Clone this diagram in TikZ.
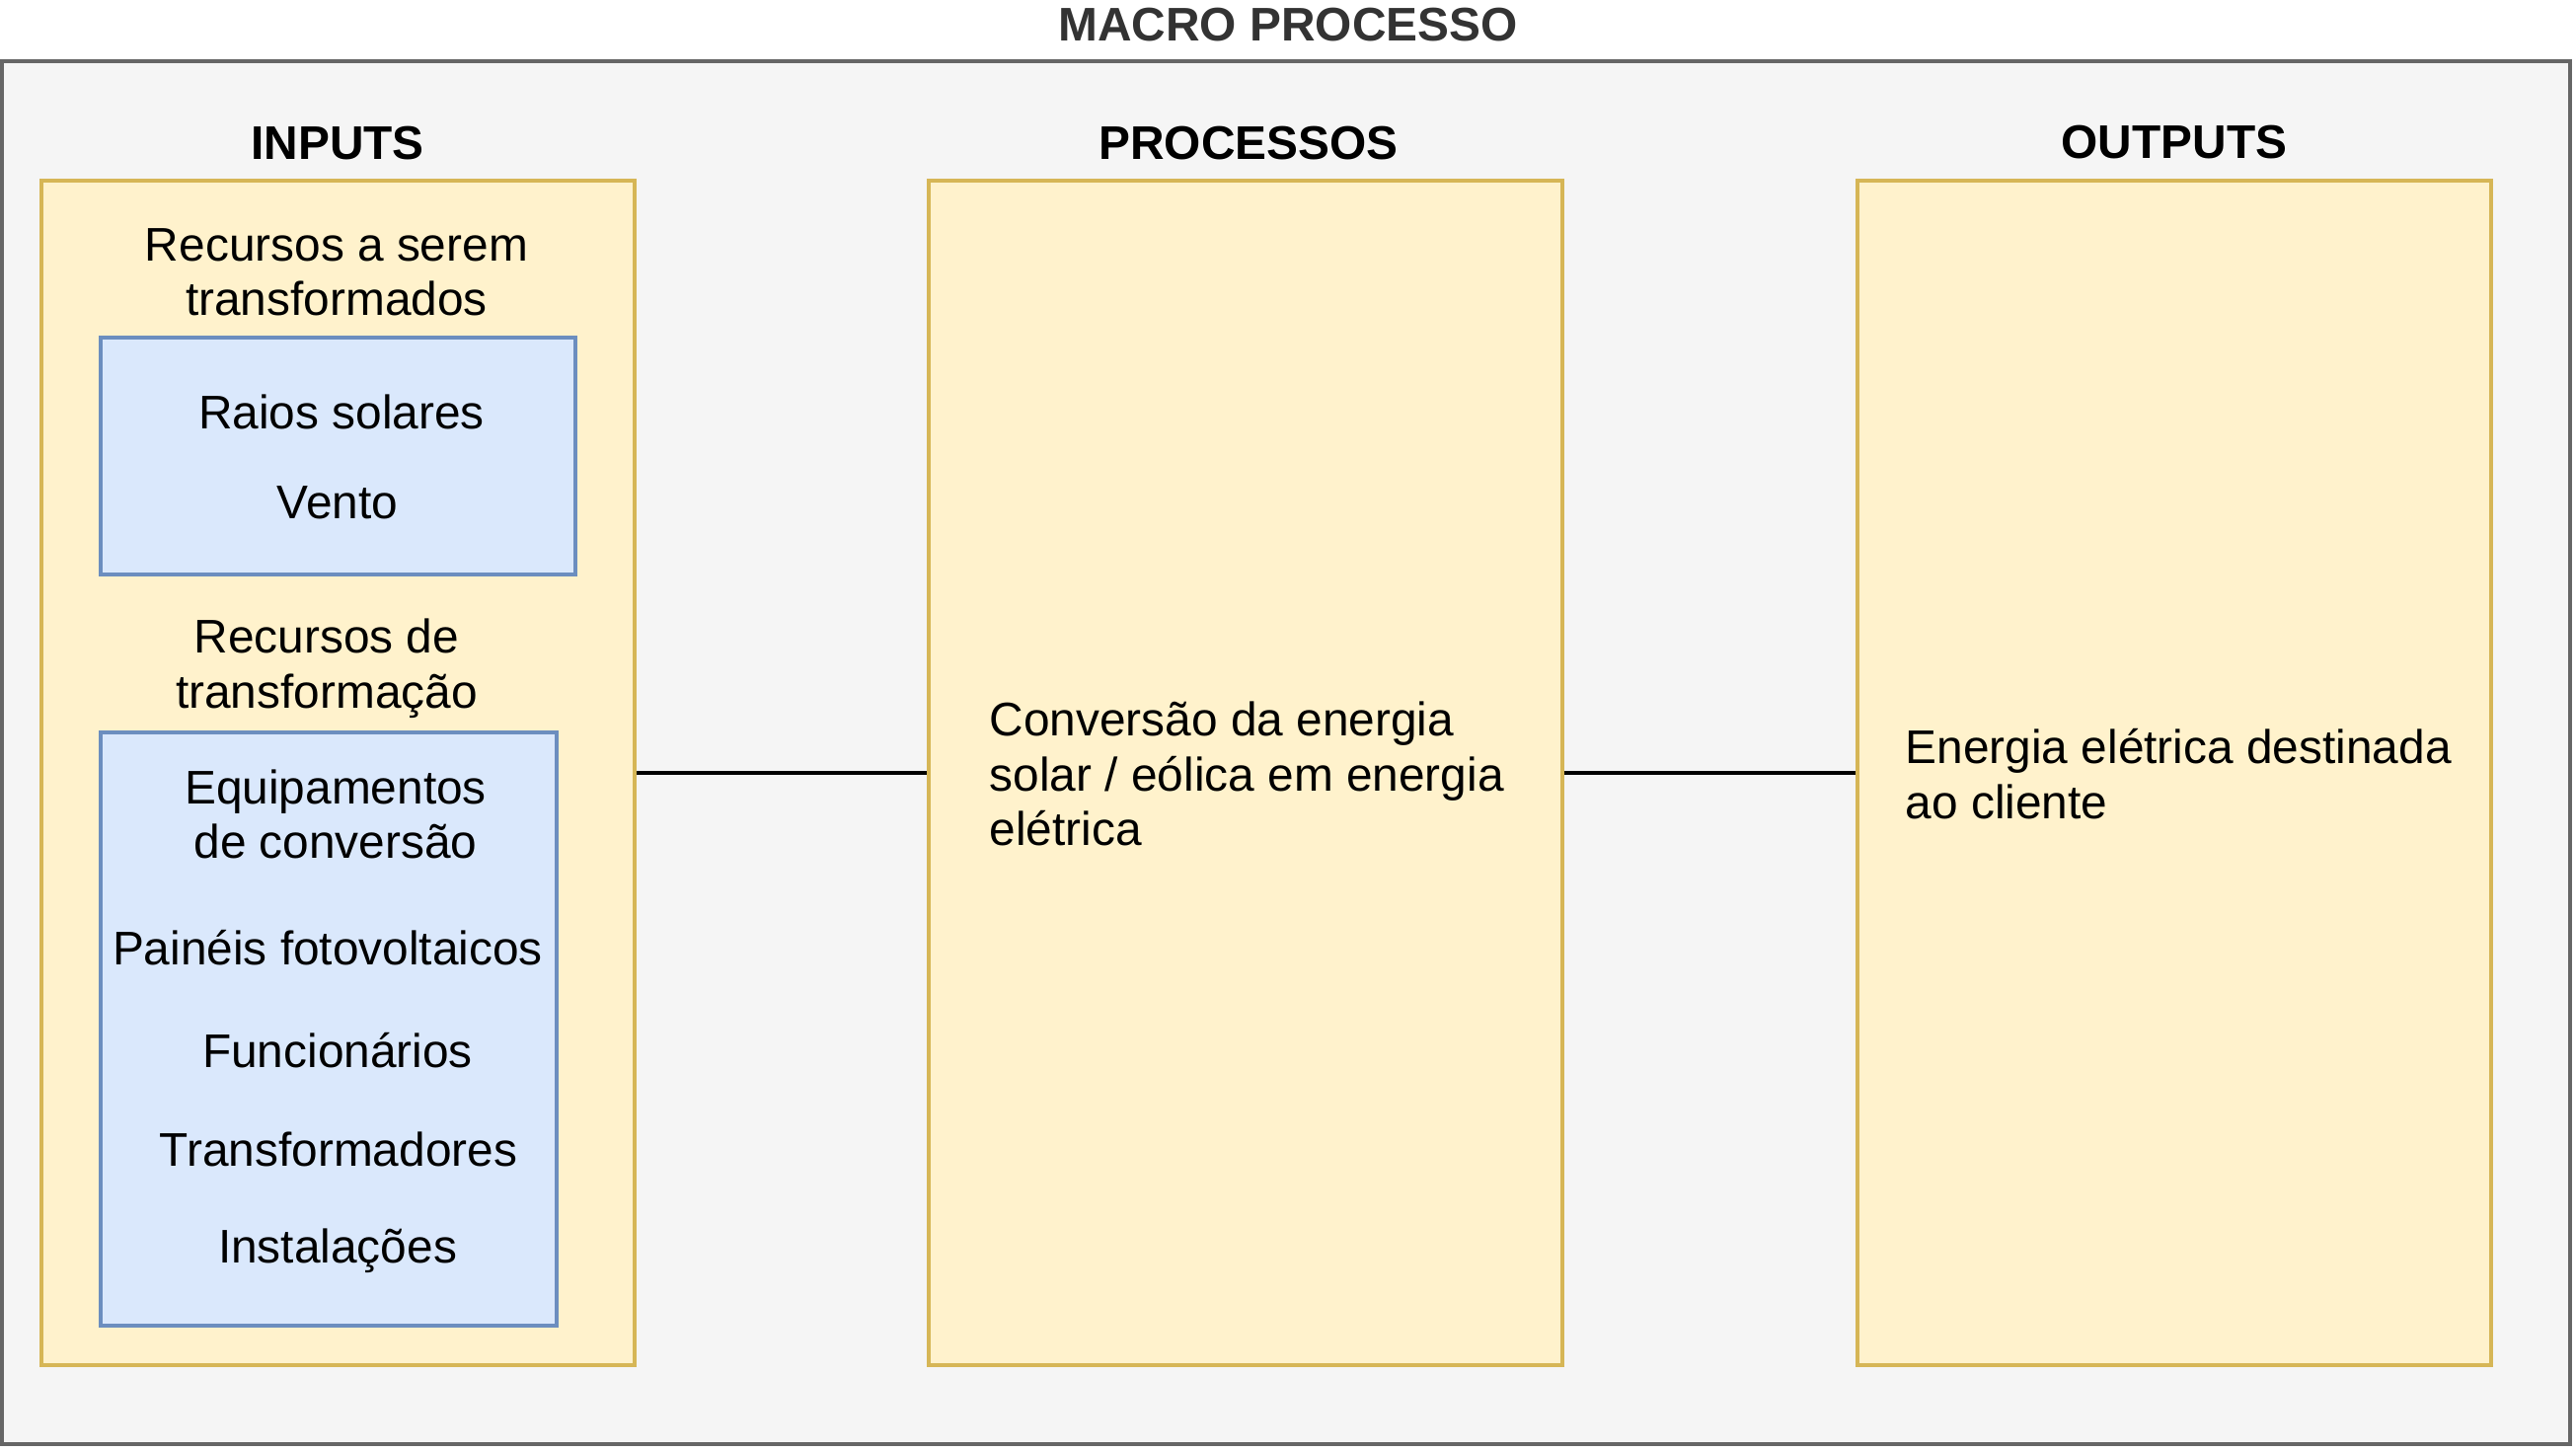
\documentclass[tikz,border=0pt]{standalone}
\usepackage{fontspec}
\setmainfont{Liberation Sans}
\usepackage{tikz}
\usetikzlibrary{positioning}

\definecolor{macrofill}{HTML}{F5F5F5}
\definecolor{macroline}{HTML}{666666}
\definecolor{macrotext}{HTML}{333333}
\definecolor{yelfill}{HTML}{FFF2CC}
\definecolor{yelline}{HTML}{D6B656}
\definecolor{bluefill}{HTML}{DAE8FC}
\definecolor{blueline}{HTML}{6C8EBF}

\tikzset{
    box/.style={draw, rectangle, line width=1.13pt, inner sep=0pt},
    ybox/.style={box, fill=yelfill, draw=yelline},
    bbox/.style={box, fill=bluefill, draw=blueline},
    txt/.style={inner sep=0pt, font=\fontsize{13.6}{15.8}\selectfont, align=center},
    head/.style={txt, font=\fontsize{13.6}{15.8}\selectfont\bfseries},
}

\begin{document}
\begin{tikzpicture}[x=0.01cm, y=-0.01cm]
    \useasboundingbox (0, 0) rectangle (2610, 1470); % REMOVE ME
    \node[box, fill=macrofill, draw=macroline, minimum width=26.0cm, minimum height=14.01cm] (macro) at (1303, 762.5) {};
    \node[head, text=macrotext] (title) at (1305, 25) {MACRO PROCESSO};

    \node[ybox, minimum width=6.01cm, minimum height=12.0cm] (inputs) at (342.5, 783) {};
    \node[ybox, minimum width=6.41cm, minimum height=12.0cm] (proc) at (1262, 783) {};
    \node[ybox, minimum width=6.42cm, minimum height=12.0cm] (outputs) at (2203, 783) {};
    \node[head] (inhead) at (342, 145) {INPUTS};
    \node[head] (prochead) at (1265, 145) {PROCESSOS};
    \node[head] (outhead) at (2203, 144) {OUTPUTS};

    \node[bbox, minimum width=4.81cm, minimum height=2.4cm] (natural) at (342.5, 462) {};
    \node[bbox, minimum width=4.62cm, minimum height=6.0cm] (equip) at (333, 1042.5) {};

    \node[txt] (rserem) at (341, 276) {Recursos a serem\\transformados};
    \node[txt] (raios) at (346, 417) {Raios solares};
    \node[txt] (vento) at (342, 509) {Vento};
    \node[txt] (rtransf) at (331, 677) {Recursos de\\transformação};
    \node[txt] (conv) at (340, 825) {Equipamentos\\de conversão};
    \node[txt] (paineis) at (332, 960) {Painéis fotovoltaicos};
    \node[txt] (func) at (342, 1064) {Funcionários};
    \node[txt] (trafo) at (343, 1164) {Transformadores};
    \node[txt] (inst) at (342, 1267) {Instalações};

    \node[txt, align=left, anchor=west] (conversao) at (1002, 784) {Conversão da energia\\solar / eólica em energia\\elétrica};
    \node[txt, align=left, anchor=west] (energia) at (1930, 784) {Energia elétrica destinada\\ao cliente};

    \draw[line width=1.13pt] (inputs.east) -- (proc.west);
    \draw[line width=1.13pt] (proc.east) -- (outputs.west);
\end{tikzpicture}
\end{document}
